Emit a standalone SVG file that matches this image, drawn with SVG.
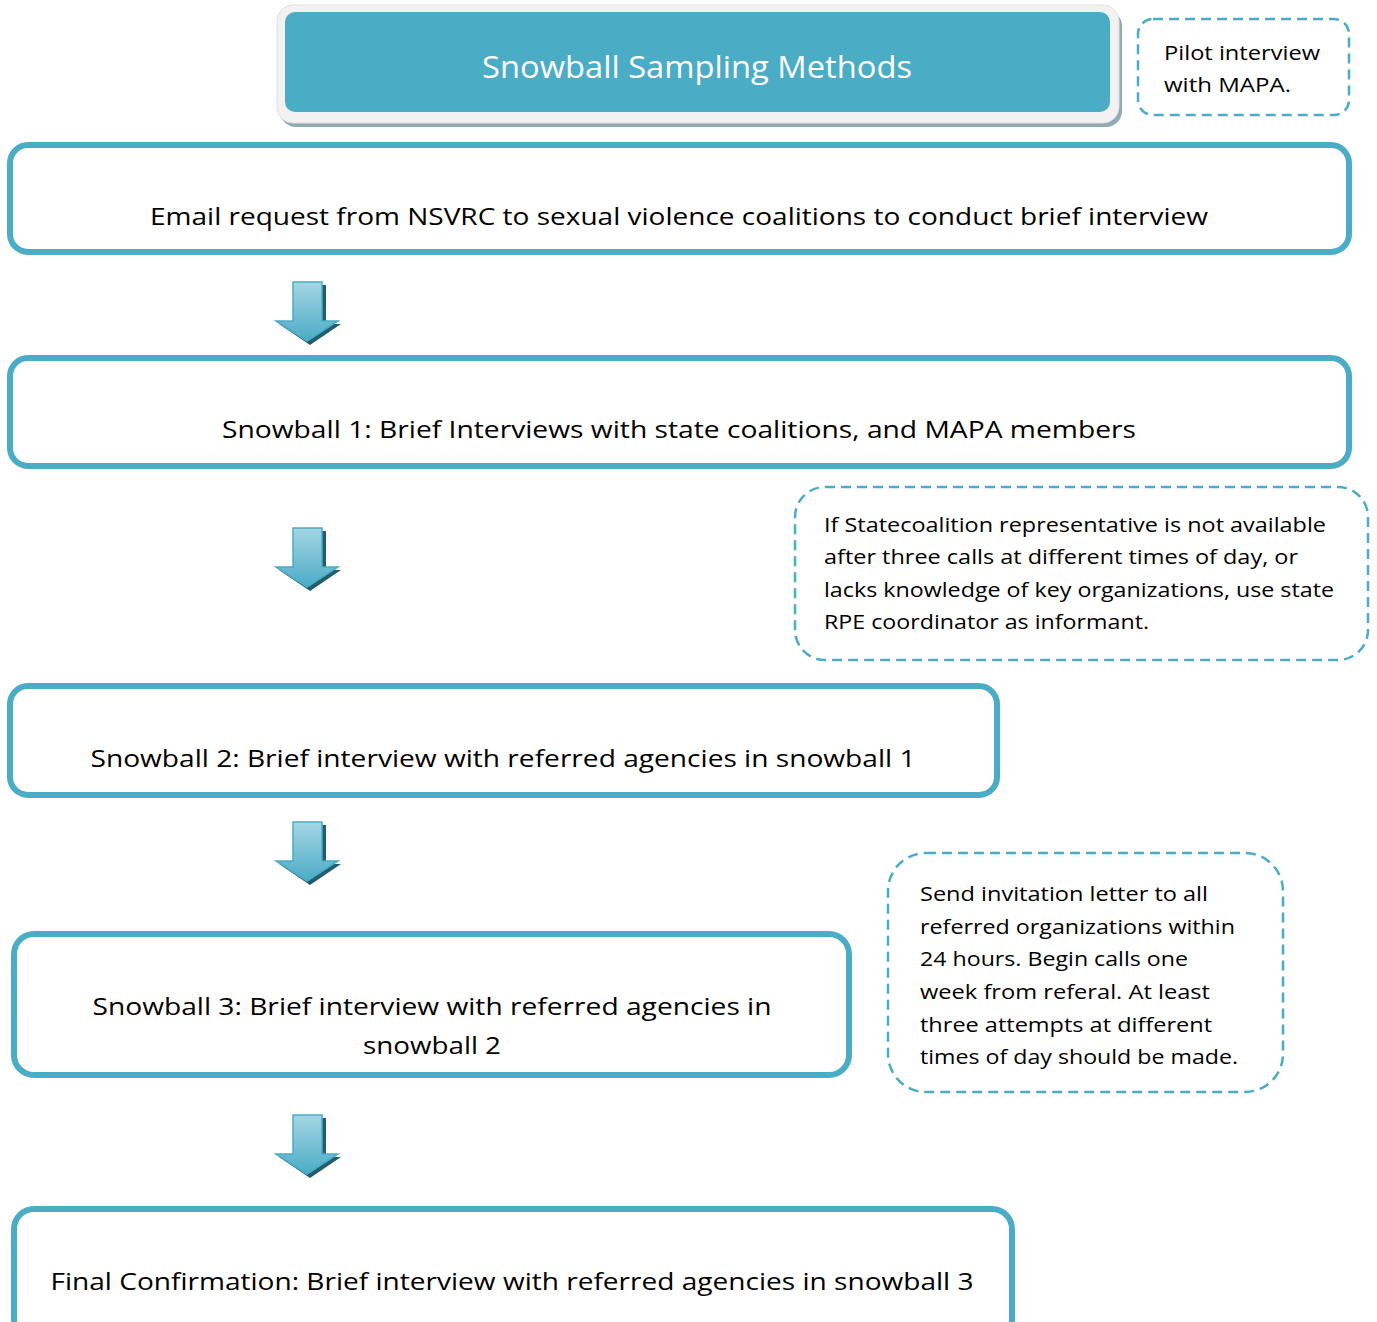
<svg xmlns="http://www.w3.org/2000/svg" width="1377" height="1322" viewBox="0 0 1377 1322">
<defs>
<style>
.box{fill:#fff;stroke:#4bacc6;stroke-width:6}
.note{fill:#fff;stroke:#4bacc6;stroke-width:2.5;stroke-dasharray:10 6}
.t{font-family:"Open Sans","Liberation Sans",sans-serif;font-size:24px;fill:#000}
.s{font-family:"Open Sans","Liberation Sans",sans-serif;font-size:20.5px;fill:#000}
.title{font-family:"Open Sans","Liberation Sans",sans-serif;font-size:31px;fill:#fff}
</style>
<linearGradient id="av" x1="0" y1="0" x2="0" y2="1">
<stop offset="0" stop-color="#a6d6e4"/><stop offset="1" stop-color="#4bacc6"/>
</linearGradient>
<g id="arrow">
<path d="M20,3 L50,3 L50,42 L65,42 L34,63 L3,42 L20,42 Z" fill="#215d6e"/>
<path d="M17,0 L46,0 L46,39 L62,39 L31,59 L0,39 L17,39 Z" fill="url(#av)" stroke="#4bacc6" stroke-width="1.5"/>
</g>
</defs>

<g id="title">
<rect x="280" y="10" width="842" height="117" rx="16" fill="#8fabb3"/>
<rect x="277" y="5" width="842" height="118" rx="16" fill="#f2f2f2" stroke="#e0e0e0" stroke-width="1"/>
<rect x="285" y="12" width="825" height="100" rx="10" fill="#4bacc6"/>
<text class="title" x="697" y="78" text-anchor="middle" textLength="430" lengthAdjust="spacingAndGlyphs">Snowball Sampling Methods</text>
</g>

<g id="pilot">
<rect class="note" x="1138" y="19" width="211" height="96" rx="15"/>
<text class="s" x="1164" y="60" textLength="156" lengthAdjust="spacingAndGlyphs">Pilot interview</text>
<text class="s" x="1164" y="92" textLength="127" lengthAdjust="spacingAndGlyphs">with MAPA.</text>
</g>

<g id="email">
<rect class="box" x="10" y="145" width="1339" height="107" rx="18"/>
<text class="t" x="679" y="225" text-anchor="middle" textLength="1058" lengthAdjust="spacingAndGlyphs">Email request from NSVRC to sexual violence coalitions to conduct brief interview</text>
</g>

<g id="snowball1">
<rect class="box" x="10" y="358" width="1339" height="108" rx="18"/>
<text class="t" x="679" y="438" text-anchor="middle" textLength="914" lengthAdjust="spacingAndGlyphs">Snowball 1: Brief Interviews with state coalitions, and MAPA members</text>
</g>

<g id="note-state">
<rect class="note" x="795" y="487" width="573" height="173" rx="30"/>
<text class="s" x="824" y="532" textLength="502" lengthAdjust="spacingAndGlyphs">If Statecoalition representative is not available</text>
<text class="s" x="824" y="564" textLength="474" lengthAdjust="spacingAndGlyphs">after three calls at different times of day, or</text>
<text class="s" x="824" y="597" textLength="510" lengthAdjust="spacingAndGlyphs">lacks knowledge of key organizations, use state</text>
<text class="s" x="824" y="629" textLength="325" lengthAdjust="spacingAndGlyphs">RPE coordinator as informant.</text>
</g>

<g id="snowball2">
<rect class="box" x="10" y="686" width="987" height="109" rx="18"/>
<text class="t" x="503" y="767" text-anchor="middle" textLength="825" lengthAdjust="spacingAndGlyphs">Snowball 2: Brief interview with referred agencies in snowball 1</text>
</g>

<g id="note-invite">
<rect class="note" x="888" y="853" width="395" height="239" rx="38"/>
<text class="s" x="920" y="901" textLength="288" lengthAdjust="spacingAndGlyphs">Send invitation letter to all</text>
<text class="s" x="920" y="934" textLength="315" lengthAdjust="spacingAndGlyphs">referred organizations within</text>
<text class="s" x="920" y="966" textLength="268" lengthAdjust="spacingAndGlyphs">24 hours. Begin calls one</text>
<text class="s" x="920" y="999" textLength="290" lengthAdjust="spacingAndGlyphs">week from referal. At least</text>
<text class="s" x="920" y="1032" textLength="292" lengthAdjust="spacingAndGlyphs">three attempts at different</text>
<text class="s" x="920" y="1064" textLength="318" lengthAdjust="spacingAndGlyphs">times of day should be made.</text>
</g>

<g id="snowball3">
<rect class="box" x="14" y="934" width="835" height="141" rx="20"/>
<text class="t" x="432" y="1015" text-anchor="middle" textLength="679" lengthAdjust="spacingAndGlyphs">Snowball 3: Brief interview with referred agencies in</text>
<text class="t" x="432" y="1054" text-anchor="middle" textLength="138" lengthAdjust="spacingAndGlyphs">snowball 2</text>
</g>

<g id="final">
<rect class="box" x="14" y="1209" width="998" height="130" rx="20"/>
<text class="t" x="512" y="1290" text-anchor="middle" textLength="923" lengthAdjust="spacingAndGlyphs">Final Confirmation: Brief interview with referred agencies in snowball 3</text>
</g>

<g id="connectors">
<use href="#arrow" x="276" y="282"/>
<use href="#arrow" x="276" y="528"/>
<use href="#arrow" x="276" y="822"/>
<use href="#arrow" x="276" y="1115"/>
</g>
</svg>
